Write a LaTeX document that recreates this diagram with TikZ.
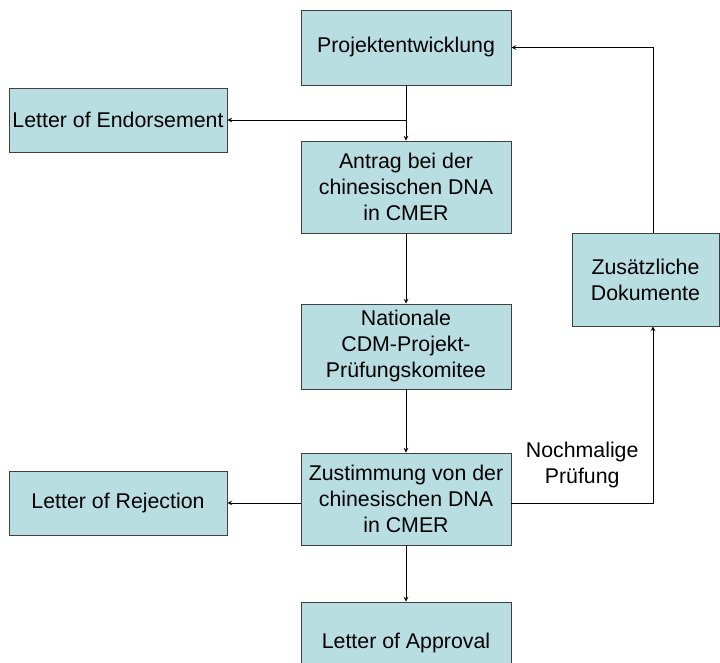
\documentclass[tikz,border=0pt]{standalone}
\usepackage{fontspec}
\setmainfont{Liberation Sans}
\usepackage{xcolor}
\usepackage{tikz}
\usetikzlibrary{shapes.geometric, arrows}

\definecolor{boxblue}{RGB}{184,222,226}

\begin{document}
\begin{tikzpicture}[node distance=110pt]
        % Define block styles with light blue background
        \tikzstyle{block} = [rectangle, draw=black!75, fill=boxblue, line width=0.6pt,
                             align=center, inner sep=0pt, minimum width=157.5pt,
                             font=\fontsize{16}{19.5}\selectfont]
        \tikzstyle{sideblock} = [block, minimum width=163.5pt, minimum height=48pt]
        \tikzstyle{arrow} = [line width=0.6pt,->,>=stealth]

        \useasboundingbox (0,0) rectangle (540pt,-496.5pt);

        % Blocks in the main column
        \node (projekt) [block, minimum height=56.25pt] at (304.5pt,-35.6pt) {Projektentwicklung};
        \node (antrag) [block, minimum height=69pt, below of=projekt, node distance=104.6pt]
              {Antrag bei der\\chinesischen DNA\\in CMER};
        \node (nationale) [block, minimum height=63.75pt, below of=antrag, node distance=119.6pt]
              {Nationale\\CDM-Projekt-\\Prüfungskomitee};
        \node (zustimmung) [block, minimum height=69pt, below of=nationale, node distance=114.4pt]
              {Zustimmung von der\\chinesischen DNA\\in CMER};
        \node (approval) [block, minimum height=61.5pt, below of=zustimmung, node distance=108pt]
              {Letter of Approval};

        % Blocks at the sides
        \node (endorsement) [sideblock, left of=projekt, node distance=216pt, yshift=-54.4pt]
              {Letter of Endorsement};
        \node (rejection) [sideblock, left of=zustimmung, node distance=216pt, yshift=-3pt]
              {Letter of Rejection};
        \node (zusatz) [block, minimum width=110.25pt, minimum height=69.75pt,
                        right of=antrag, node distance=179.6pt, yshift=-69.4pt]
              {Zusätzliche\\Dokumente};
        \coordinate (rueck) at ([xshift=5.6pt]zusatz.south);

        % Arrows
        \draw [arrow] (projekt) -- (antrag);
        \draw [arrow] (antrag) -- (nationale);
        \draw [arrow] (nationale) -- (zustimmung);
        \draw [arrow] (zustimmung) -- (approval);
        \draw [arrow] (projekt.south |- endorsement.east) -- (endorsement.east);
        \draw [arrow] (zustimmung.west |- rejection.east) -- (rejection.east);
        \draw [arrow] (zustimmung.east |- rejection.east) -| (rueck)
              node [pos=0.25, yshift=28.5pt, align=center, font=\fontsize{16}{19.5}\selectfont]
              {Nochmalige\\Prüfung};
        \draw [arrow] ([xshift=5.6pt]zusatz.north) |- (projekt.east);
    \end{tikzpicture}
\end{document}
